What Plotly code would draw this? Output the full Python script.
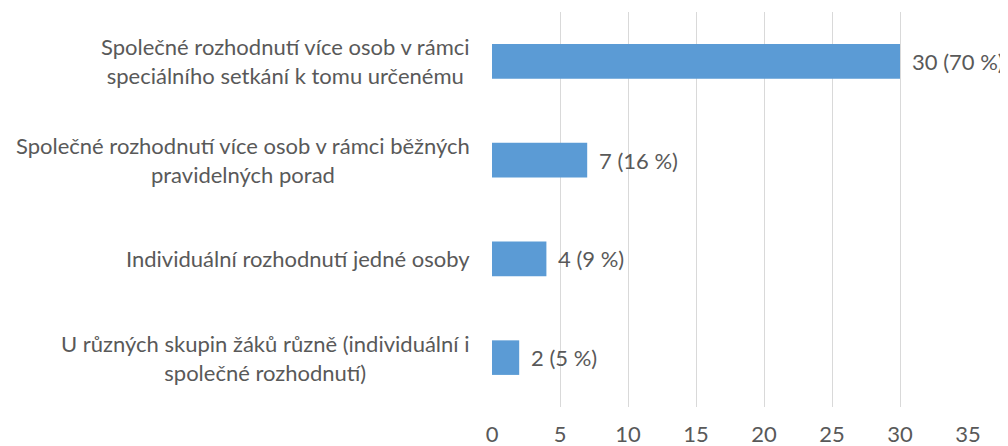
import plotly.graph_objects as go

categories = [
    "Společné rozhodnutí více osob v rámci<br>speciálního setkání k tomu určenému",
    "Společné rozhodnutí více osob v rámci běžných<br>pravidelných porad",
    "Individuální rozhodnutí jedné osoby",
    "U různých skupin žáků různě (individuální i<br>společné rozhodnutí)",
]
counts = [30, 7, 4, 2]
percents = [70, 16, 9, 5]
tick_vals = [0, 5, 10, 15, 20, 25, 30, 35]

labels = [f"{c} ({p} %)" for c, p in zip(counts, percents)]
ids = [f"c{i}" for i in range(len(categories))]

FONT = "Lato, Open Sans, sans-serif"
TXT = "#595959"
FS = 22

fig = go.Figure()
fig.add_trace(go.Bar(
    x=counts, y=ids, orientation="h",
    marker=dict(color="#5B9BD5", line=dict(width=0)),
    hoverinfo="skip",
))

for cid, cat, v, lab in zip(ids, categories, counts, labels):
    fig.add_annotation(x=v, y=cid, xref="x", yref="y", text=lab, showarrow=False,
                       xanchor="left", xshift=10, font=dict(family=FONT, size=FS, color=TXT))
    fig.add_annotation(x=0, y=cid, xref="paper", yref="y", text=cat, showarrow=False,
                       xanchor="right", xshift=-20, align="center",
                       font=dict(family=FONT, size=FS, color=TXT))

fig.update_layout(
    width=1008, height=446,
    margin=dict(l=484, r=48, t=4, b=47),
    paper_bgcolor="white", plot_bgcolor="white",
    bargap=0.65, showlegend=False,
    font=dict(family=FONT, size=FS, color=TXT),
)
fig.update_xaxes(range=[0, 35], tickvals=tick_vals, showgrid=True, gridcolor="#D9D9D9",
                 gridwidth=1, zeroline=False, showline=False, ticks="",
                 ticklabelstandoff=12, tickfont=dict(family=FONT, size=FS, color=TXT),
                 fixedrange=True)
fig.update_yaxes(categoryorder="array", categoryarray=ids, autorange="reversed",
                 showticklabels=False, showgrid=False, zeroline=False, showline=False,
                 ticks="", fixedrange=True)

fig.write_html("out.html")
